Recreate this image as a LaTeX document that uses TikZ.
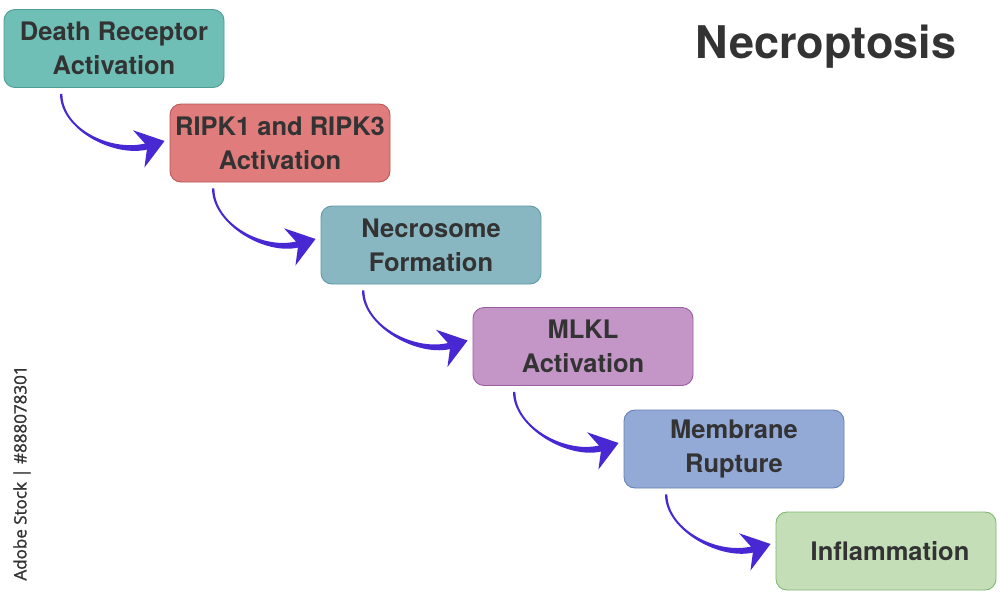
\documentclass[tikz,border=0pt]{standalone}
\usepackage{fontspec}
\setmainfont{TeX Gyre Heros}
\newfontfamily\sidefont[FakeBold=1.3]{Open Sans}
\usetikzlibrary{calc}
\definecolor{txt}{HTML}{333333}
\definecolor{arr}{HTML}{4828D2}
\definecolor{fA}{HTML}{6FBFB6}\definecolor{bA}{HTML}{4E9E95}
\definecolor{fB}{HTML}{E07C7C}\definecolor{bB}{HTML}{B85656}
\definecolor{fC}{HTML}{88B7C2}\definecolor{bC}{HTML}{5E98A8}
\definecolor{fD}{HTML}{C496C8}\definecolor{bD}{HTML}{9A5E9E}
\definecolor{fE}{HTML}{93A9D6}\definecolor{bE}{HTML}{6680B8}
\definecolor{fF}{HTML}{C4DFB8}\definecolor{bF}{HTML}{7FB870}
\tikzset{
  stepbox/.style={rounded corners=11pt, minimum width=220pt, minimum height=78pt,
    inner sep=0pt, align=center, text=txt, line width=0.9pt,
    font=\bfseries\fontsize{25.5}{34}\selectfont},
  flow/.style={fill=arr}
}
\begin{document}
\begin{tikzpicture}[x=1pt,y=1pt]
\useasboundingbox[fill=white] (0,0) rectangle (1000,-600);
\node[stepbox, fill=fA, draw=bA] (a) at (114,-48.5) {Death Receptor\\Activation};
\node[stepbox, fill=fB, draw=bB] (b) at (280,-143) {RIPK1 and RIPK3\\Activation};
\node[stepbox, fill=fC, draw=bC] (c) at (431,-245) {Necrosome\\Formation};
\node[stepbox, fill=fD, draw=bD] (d) at (583,-346.5) {MLKL\\Activation};
\node[stepbox, fill=fE, draw=bE] (e) at (734,-449) {Membrane\\Rupture};
\node[stepbox, fill=fF, draw=bF] (f) at (886,-551) {\hspace*{8pt}Inflammation};
\node[font=\bfseries\fontsize{45}{50}\selectfont, text=txt] (title) at (826,-47) {Necroptosis};
\node[font=\sidefont\fontsize{17}{18}\selectfont, text=txt, rotate=90] (side) at (22,-473) {Adobe Stock | \#888078301};
\foreach \u/\v/\dx/\dy in {a/b/-54/2,b/c/-68/6,c/d/-69/6,d/e/-70/6,e/f/-69/7}{
  \coordinate (s\u) at ([xshift=\dx pt,yshift=-6pt]\u.south);
  \coordinate (t\u) at ([xshift=-5pt,yshift=\dy pt]\v.west);
  \coordinate (h\u) at ($(t\u)+(197:16)$);
  \fill[flow] (s\u) .. controls ($(s\u)+(0,-36)$) and ($(h\u)+(197:36)+(-73:3.2)$)
      .. ($(h\u)+(-73:3.2)$) -- ($(h\u)+(107:3.2)$)
      .. controls ($(h\u)+(197:36)+(107:3.2)$) and ($(s\u)+(2.4,-36)$)
      .. ($(s\u)+(2.4,0)$) -- cycle;
  \fill[flow] (t\u) -- ($(t\u)+(197:27)+(107:19.5)$) -- ($(t\u)+(197:18)$)
      -- ($(t\u)+(197:27)+(-73:19.5)$) -- cycle;
}
\end{tikzpicture}
\end{document}
